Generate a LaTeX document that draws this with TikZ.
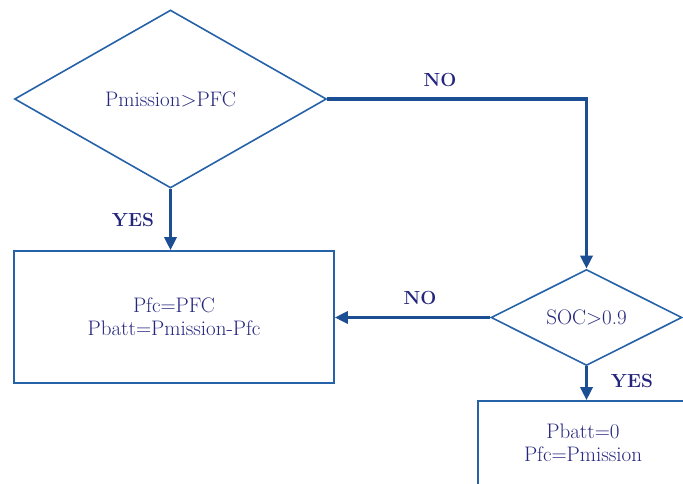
\documentclass[tikz,border=0pt]{standalone}
\usepackage{tikz}
\usetikzlibrary{positioning,shapes.geometric,arrows.meta}

\definecolor{edgeblue}{RGB}{38,98,168}
\definecolor{flowblue}{RGB}{28,78,148}
\definecolor{textnavy}{RGB}{36,38,126}

\tikzset{
  decision/.style={diamond, draw=edgeblue, line width=1.6pt, text=textnavy, inner sep=0pt},
  process/.style={rectangle, draw=edgeblue, line width=1.6pt, text=textnavy, align=center},
  flow/.style={-{Triangle[width=12pt,length=13pt]}, draw=flowblue, line width=3.5pt},
  answer/.style={text=textnavy, font=\bfseries\fontsize{19}{22}\selectfont}
}

\begin{document}
\begin{tikzpicture}[x=1pt, y=-1pt, font=\fontsize{21}{23}\selectfont]
		\clip (0,0) rectangle (683,483);
		\useasboundingbox (0,0) rectangle (683,483);
		\node[decision, minimum width=312pt, minimum height=178pt] (D1) at (170.5, 99) {Pmission>PFC};
		\node[process, minimum width=320pt, minimum height=132pt] (B1) at (174, 317) {Pfc=PFC\\Pbatt=Pmission-Pfc};
		\node[decision, minimum width=191pt, minimum height=96pt] (D2) at (586.5, 317.5) {SOC>0.9};
		\node[process, minimum width=220pt, minimum height=100pt] (B2) at (588, 451) {};
		\node[text=textnavy, align=center] (T2) at (583, 443) {Pbatt=0\\Pfc=Pmission};
		\node[answer] (Y1) at (133, 220) {YES};
		\node[answer] (N1) at (440, 80) {NO};
		\node[answer] (N2) at (420, 298) {NO};
		\node[answer] (Y2) at (632, 381) {YES};
		\draw[flow] (D1.south) -- (D1.south |- B1.north);
		\draw[flow] (D1.east) -| (D2.north);
		\draw[flow] (D2.west) -- (B1.east |- D2.west);
		\draw[flow] (D2.south) -- (D2.south |- B2.north);
	\end{tikzpicture}
\end{document}
